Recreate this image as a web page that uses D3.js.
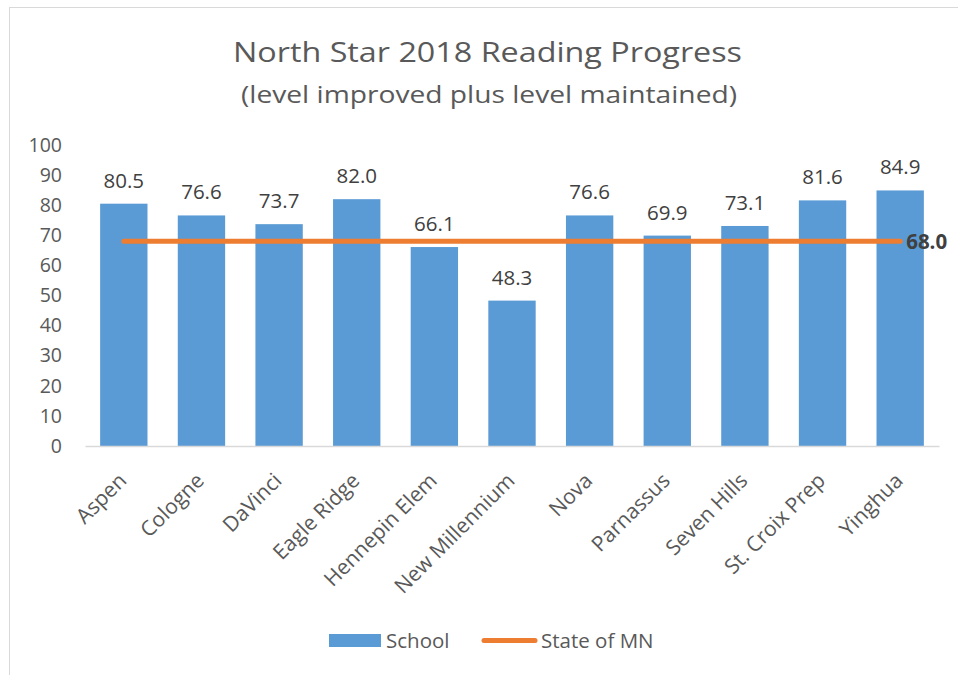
<!DOCTYPE html>
<html>
<head>
<meta charset="utf-8">
<script src="https://cdn.jsdelivr.net/npm/d3@7"></script>
<style>
  body { margin: 0; background: #fff; }
  svg { display: block; font-family: "Open Sans", sans-serif; }
</style>
</head>
<body>
<script>
// données du graphique
var schools = ["Aspen", "Cologne", "DaVinci", "Eagle Ridge", "Hennepin Elem", "New Millennium",
               "Nova", "Parnassus", "Seven Hills", "St. Croix Prep", "Yinghua"];
var schoolValues = [80.5, 76.6, 73.7, 82.0, 66.1, 48.3, 76.6, 69.9, 73.1, 81.6, 84.9];
var stateValue = 68.0;
var yTicks = [0, 10, 20, 30, 40, 50, 60, 70, 80, 90, 100];
var seriesNames = ["School", "State of MN"];

var width = 958, height = 675;
var blue = "#5B9BD5", orange = "#ED7D31", grey = "#595959";
var font = "'Open Sans', sans-serif";

var svg = d3.select("body").append("svg")
    .attr("width", width)
    .attr("height", height);

// cadre du graphique
svg.append("rect")
    .attr("x", 9.5).attr("y", 7.5)
    .attr("width", 1000).attr("height", 700)
    .attr("fill", "#fff")
    .attr("stroke", "#D9D9D9");

// titres
svg.append("text")
    .attr("x", 233).attr("y", 62)
    .attr("textLength", 509)
    .attr("lengthAdjust", "spacingAndGlyphs")
    .style("font-size", "27px")
    .style("fill", grey)
    .text("North Star 2018 Reading Progress");

svg.append("text")
    .attr("x", 241).attr("y", 103)
    .attr("textLength", 496)
    .attr("lengthAdjust", "spacingAndGlyphs")
    .style("font-size", "23px")
    .style("fill", grey)
    .text("(level improved plus level maintained)");

// échelles
var x = d3.scaleBand()
    .domain(schools)
    .range([85, 939])
    .paddingInner(0.39)
    .paddingOuter(0.195);

var y = d3.scaleLinear()
    .domain([0, 100])
    .range([446, 145]);

// axe Y (texte seulement)
var yAxis = svg.append("g")
    .attr("transform", "translate(62,0)")
    .call(d3.axisLeft(y).tickValues(yTicks).tickSize(0).tickPadding(0));
yAxis.select(".domain").remove();
yAxis.selectAll("text")
    .style("font-family", font)
    .style("font-size", "19.5px")
    .style("fill", grey);

// barres
svg.append("g")
    .selectAll("rect")
    .data(schoolValues)
    .enter()
    .append("rect")
    .attr("x", function(d, i) { return x(schools[i]); })
    .attr("y", function(d) { return y(d); })
    .attr("width", x.bandwidth())
    .attr("height", function(d) { return y(0) - y(d); })
    .attr("fill", blue);

// étiquettes de valeurs
svg.append("g")
    .selectAll("text")
    .data(schoolValues)
    .enter()
    .append("text")
    .attr("x", function(d, i) { return x(schools[i]) + x.bandwidth() / 2; })
    .attr("y", function(d) { return y(d) - 16; })
    .attr("text-anchor", "middle")
    .style("font-size", "20.5px")
    .style("fill", "#404040")
    .text(function(d) { return d.toFixed(1); });

// axe X
var xAxis = svg.append("g")
    .attr("transform", "translate(0," + y(0) + ")")
    .call(d3.axisBottom(x).tickSize(0).tickPadding(0));
xAxis.select(".domain")
    .attr("stroke", "#D9D9D9")
    .attr("stroke-width", 1.5);
xAxis.selectAll("text")
    .style("font-family", font)
    .style("font-size", "21px")
    .style("fill", grey)
    .attr("text-anchor", "end")
    .attr("dy", null)
    .attr("transform", "translate(4,36) rotate(-45)");

// ligne de l'état
var line = d3.line()
    .x(function(d) { return x(d) + x.bandwidth() / 2; })
    .y(function() { return y(stateValue); });

svg.append("path")
    .datum(schools)
    .attr("d", line)
    .attr("fill", "none")
    .attr("stroke", orange)
    .attr("stroke-width", 5)
    .attr("stroke-linecap", "round");

svg.append("text")
    .attr("x", x(schools[schools.length - 1]) + x.bandwidth() / 2 + 6)
    .attr("y", y(stateValue) + 8)
    .style("font-size", "20.5px")
    .style("font-weight", "bold")
    .style("fill", "#404040")
    .text(stateValue.toFixed(1));

// légende
var legend = svg.append("g");
legend.append("rect")
    .attr("x", 329).attr("y", 634)
    .attr("width", 52).attr("height", 13)
    .attr("fill", blue);
legend.append("text")
    .attr("x", 386).attr("y", 648)
    .style("font-size", "20.5px")
    .style("fill", grey)
    .text(seriesNames[0]);
legend.append("line")
    .attr("x1", 484).attr("x2", 535)
    .attr("y1", 640.5).attr("y2", 640.5)
    .attr("stroke", orange)
    .attr("stroke-width", 5)
    .attr("stroke-linecap", "round");
legend.append("text")
    .attr("x", 541).attr("y", 648)
    .style("font-size", "20.5px")
    .style("fill", grey)
    .text(seriesNames[1]);
</script>
</body>
</html>
